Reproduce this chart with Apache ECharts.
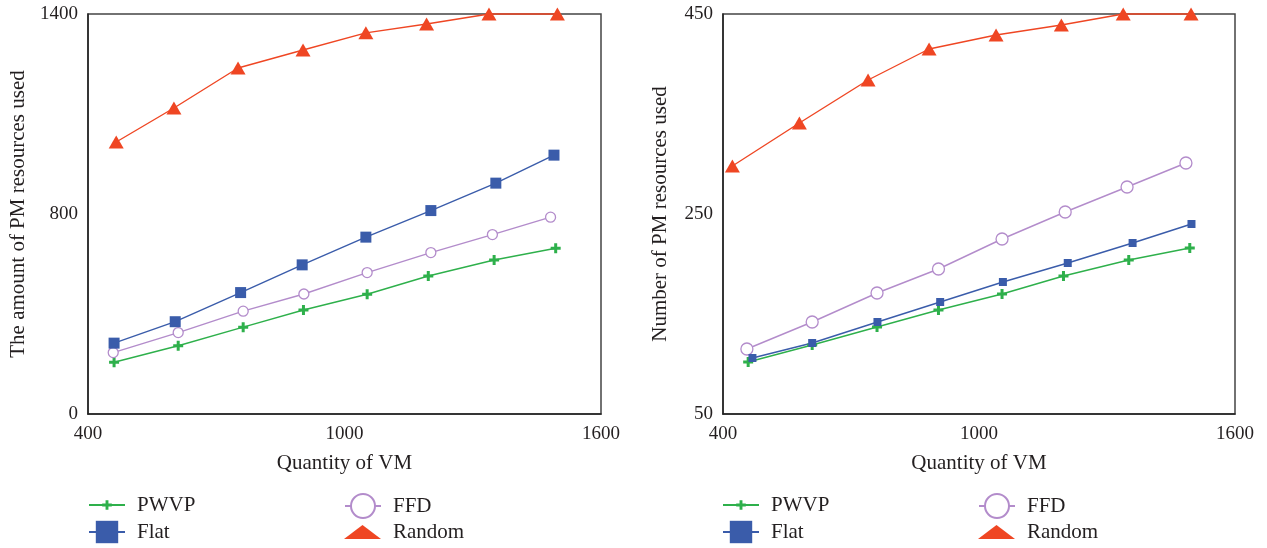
<!DOCTYPE html>
<html><head><meta charset="utf-8">
<script src="https://cdn.jsdelivr.net/npm/echarts@6/dist/echarts.min.js"></script>
<style>html,body{margin:0;padding:0;background:#fff}#c{width:1267px;height:548px}</style>
</head><body><div id="c"></div>
<script>
// ---- data ----
const leftX_PWVP = [461, 611, 763, 904, 1053, 1196, 1350, 1494];
const leftY_PWVP = [181, 239, 304, 364, 419, 483, 539, 580];
const leftX_Flat = [461, 604, 757, 901, 1050, 1202, 1354, 1490];
const leftY_Flat = [248, 323, 425, 522, 619, 712, 808, 906];
const leftX_FFD = [459, 611, 763, 905, 1053, 1202, 1346, 1482];
const leftY_FFD = [215, 285, 360, 420, 495, 565, 628, 689];
const leftX_Random = [466, 601, 751, 903, 1050, 1192, 1338, 1498];
const leftY_Random = [952, 1071, 1211, 1274, 1334, 1365, 1400, 1400];

const rightX_PWVP = [459, 609, 761, 905, 1054, 1198, 1351, 1494];
const rightY_PWVP = [102, 119, 137, 154, 170, 188, 204, 216];
const rightX_Flat = [469, 609, 762, 909, 1056, 1208, 1360, 1498];
const rightY_Flat = [106, 121, 142, 162, 182, 201, 221, 240];
const rightX_FFD = [456, 609, 761, 905, 1054, 1202, 1347, 1485];
const rightY_FFD = [115, 142, 171, 195, 225, 252, 277, 301];
const rightX_Random = [422, 579, 740, 883, 1040, 1193, 1338, 1497];
const rightY_Random = [298, 341, 384, 415, 429, 439, 450, 450];

const xTickLabels = ['400', '1000', '1600'];
const leftYTickLabels = ['0', '800', '1400'];
const rightYTickLabels = ['50', '250', '450'];
const xAxisName = 'Quantity of VM';
const leftYAxisName = 'The amount of PM resources used';
const rightYAxisName = 'Number of PM resources used';

// ---- styling ----
const FONT = 'Liberation Serif';
const TXT = '#231f20';
const colors = { PWVP: '#2eb04b', Flat: '#3a5caa', FFD: '#b38ccb', Random: '#ef4623' };
const plus = 'path://M3.5,0H6.5V3.5H10V6.5H6.5V10H3.5V6.5H0V3.5H3.5Z';
const zip = (xs, ys) => xs.map((x, i) => [x, ys[i]]);

function mkSeries(name, gi, xs, ys, symbol, size) {
  const isFFD = name === 'FFD';
  return {
    name, type: 'line', xAxisIndex: gi, yAxisIndex: gi,
    data: zip(xs, ys), symbol, symbolSize: size, showSymbol: true,
    clip: false, z: name === 'Random' ? 5 : 3,
    lineStyle: { color: colors[name], width: 1.4 },
    itemStyle: isFFD ? { color: '#fff', borderColor: colors[name], borderWidth: 1.3 } : { color: colors[name] },
    emphasis: { disabled: true }
  };
}

const series = [
  mkSeries('PWVP', 0, leftX_PWVP, leftY_PWVP, plus, 10),
  mkSeries('FFD', 0, leftX_FFD, leftY_FFD, 'circle', 10),
  mkSeries('Flat', 0, leftX_Flat, leftY_Flat, 'rect', 11),
  mkSeries('Random', 0, leftX_Random, leftY_Random, 'triangle', [15, 13]),
  mkSeries('PWVP', 1, rightX_PWVP, rightY_PWVP, plus, 10),
  mkSeries('FFD', 1, rightX_FFD, rightY_FFD, 'circle', 12),
  mkSeries('Flat', 1, rightX_Flat, rightY_Flat, 'rect', 8),
  mkSeries('Random', 1, rightX_Random, rightY_Random, 'triangle', [15, 13]),
];

const grids = [
  { left: 88, top: 14, width: 513, height: 400 },
  { left: 723, top: 14, width: 512, height: 400 }
].map(g => Object.assign(g, { show: true, borderColor: '#444', borderWidth: 1.5, backgroundColor: 'transparent' }));

const labelStyle = { fontFamily: FONT, fontSize: 19, color: TXT };
const nameStyle = { fontFamily: FONT, fontSize: 21, color: TXT };
const xAxes = [0, 1].map(i => ({
  type: 'value', gridIndex: i, min: 400, max: 1600, interval: 600,
  name: xAxisName, nameLocation: 'middle', nameGap: 39,
  nameTextStyle: nameStyle,
  axisLine: { show: true, lineStyle: { color: '#222', width: 1.5 } },
  axisTick: { show: false }, splitLine: { show: false },
  axisLabel: Object.assign({ margin: 11, formatter: v => xTickLabels[Math.round((v - 400) / 600)] }, labelStyle)
}));
const yAxes = [
  {
    type: 'value', gridIndex: 0, min: 0, max: 1400, interval: 700,
    name: leftYAxisName, nameLocation: 'middle', nameGap: 59,
    axisLabel: Object.assign({ margin: 10, formatter: v => leftYTickLabels[Math.round(v / 700)] }, labelStyle)
  },
  {
    type: 'value', gridIndex: 1, min: 50, max: 450, interval: 200,
    name: rightYAxisName, nameLocation: 'middle', nameGap: 52,
    axisLabel: Object.assign({ margin: 10, formatter: v => rightYTickLabels[Math.round((v - 50) / 200)] }, labelStyle)
  }
].map(a => Object.assign(a, {
  nameTextStyle: nameStyle,
  axisLine: { show: true, lineStyle: { color: '#222', width: 1.5 } },
  axisTick: { show: false }, splitLine: { show: false }
}));

function legendItem(name, left, cy) {
  const base = {
    left, padding: 0, itemWidth: 36, selectedMode: false,
    textStyle: { fontFamily: FONT, fontSize: 21, color: TXT, padding: [0, 0, 0, 7] },
    data: [name]
  };
  let off = 0;
  if (name === 'PWVP') { base.itemHeight = 12; off = 10.5; }
  if (name === 'Flat') { base.itemHeight = 28; off = 11.2; }
  if (name === 'FFD') { base.itemHeight = 30; off = 12; }
  if (name === 'Random') {
    base.itemHeight = 14; base.itemWidth = 37; off = 10.5;
    base.data = [{ name, icon: 'path://M0,14L18.5,0L37,14Z' }];
  }
  base.top = cy - off;
  return base;
}
const legends = [
  legendItem('PWVP', 88, 505), legendItem('Flat', 88, 532),
  legendItem('FFD', 344, 505), legendItem('Random', 344, 532),
  legendItem('PWVP', 722, 505), legendItem('Flat', 722, 532),
  legendItem('FFD', 978, 505), legendItem('Random', 978, 532)
];

const chart = echarts.init(document.getElementById('c'), null, { renderer: 'canvas' });
chart.setOption({
  animation: false, backgroundColor: '#fff',
  grid: grids, xAxis: xAxes, yAxis: yAxes, legend: legends, series
});
</script></body></html>
